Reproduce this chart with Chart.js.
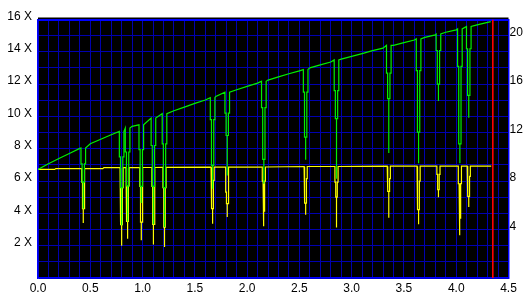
<!DOCTYPE html>
<html>
<head>
<meta charset="utf-8">
<script src="https://cdn.jsdelivr.net/npm/chart.js@4.4.0/dist/chart.umd.min.js"></script>
<style>
  body { margin: 0; background: #fff; }
  #wrap { width: 527px; height: 297px; }
</style>
</head>
<body>
<div id="wrap"><canvas id="speedChart"></canvas></div>
<script>
// speed curve (green)
const posX = [0, 0.1, 0.2, 0.3, 0.4, 0.5, 0.6, 0.7, 0.8, 0.9, 1.0, 1.1, 1.2, 1.3, 1.4,
  1.5, 1.6, 1.7, 1.8, 1.9, 2.0, 2.1, 2.2, 2.3, 2.4, 2.5, 2.6, 2.7, 2.8, 2.9, 3.0,
  3.1, 3.2, 3.3, 3.4, 3.5, 3.6, 3.7, 3.8, 3.9, 4.0, 4.1, 4.2, 4.3, 4.33];
const speed = [6.72, 7.07, 7.40, 7.71, 8.02, 8.31, 8.59, 8.87, 9.13, 9.39, 9.64, 9.88,
  10.12, 10.35, 10.58, 10.81, 11.02, 11.24, 11.45, 11.65, 11.86, 12.06, 12.25, 12.45,
  12.64, 12.82, 13.01, 13.19, 13.37, 13.55, 13.72, 13.89, 14.07, 14.23, 14.40, 14.57,
  14.73, 14.89, 15.05, 15.21, 15.36, 15.52, 15.67, 15.82, 15.87];

// second curve (yellow)
const yellowX = [0, 0.16, 0.17, 0.62, 0.63, 4.335];
const yellowY = [6.72, 6.72, 6.77, 6.77, 6.83, 6.93];

// dips: where they sit and how deep each step goes
const dipPos = [0.433, 0.80, 0.857, 0.988, 1.104, 1.21, 1.67, 1.81, 2.16, 2.56,
  2.855, 3.355, 3.64, 3.83, 4.035, 4.12];
const dipTop = [8.04, 9.07, 9.28, 9.48, 9.9, 10.17, 11.16, 11.5, 12.18, 12.9,
  13.5, 14.4, 14.8, 15.1, 15.42, 15.57];
const dipGreen = [
  [7.07, 5.94, 4.29], [7.5, 5.6, 3.26], [7.8, 5.7, 3.5], [7.94, 5.67, 4.64],
  [8.2, 5.67, 3.32], [8.3, 5.6, 3.15], [9.8, 6.97, 5.53], [10.2, 8.82, 6.35],
  [10.54, 7.34, 5.84], [11.5, 8.72, 7.32], [11.6, 9.86, 6.15], [12.68, 11.1, 7.73],
  [12.84, 9.03, 7.1], [14.08, 12.0, 10.95], [13.1, 8.3, 7.1], [14.19, 11.3, 9.92]
];
const dipYellowTop = [6.77, 6.83, 6.83, 6.84, 6.84, 6.85, 6.86, 6.86, 6.87, 6.9,
  6.9, 6.92, 6.92, 6.93, 6.93, 6.93];
const dipYellow = [
  [5.94, 4.29, 3.4], [5.6, 3.3, 2.0], [5.7, 3.5, 2.43], [5.67, 3.46, 2.33],
  [5.67, 3.32, 2.08], [5.6, 3.15, 1.92], [6.04, 4.29, 3.36], [5.32, 4.6, 3.77],
  [6.0, 4.14, 3.21], [6.15, 4.64, 3.92], [5.94, 5.0, 3.12], [6.15, 5.36, 3.73],
  [6.0, 4.23, 3.32], [6.41, 5.47, 5.0], [5.84, 3.71, 2.64], [6.29, 5.05, 4.39]
];

const markerPos = 4.35;

const leftTicks = [2, 4, 6, 8, 10, 12, 14, 16];
const rightTicks = [4, 8, 12, 16, 20];
const bottomTicks = [0, 0.5, 1.0, 1.5, 2.0, 2.5, 3.0, 3.5, 4.0, 4.5];

// baseline points plus a stepped notch at every dip
function buildSeries(baseX, baseY, tops, levels, half) {
  const pts = [];
  baseX.forEach((x, i) => {
    const inside = dipPos.some((c) => Math.abs(x - c) <= half + 0.004);
    if (!inside) pts.push({ x: x, y: baseY[i] });
  });
  dipPos.forEach((c, i) => {
    const [a, b, m] = levels[i];
    const t = tops[i];
    pts.push(
      { x: c - half, y: t }, { x: c - half, y: a },
      { x: c - half / 2, y: a }, { x: c - half / 2, y: b },
      { x: c, y: b }, { x: c, y: m }, { x: c, y: b },
      { x: c + half / 2, y: b }, { x: c + half / 2, y: a },
      { x: c + half, y: a }, { x: c + half, y: t }
    );
  });
  return pts.sort((p, q) => p.x - q.x);
}

const plotBackground = {
  id: "plotBackground",
  beforeDraw(chart) {
    const { ctx, chartArea: a } = chart;
    ctx.save();
    ctx.fillStyle = "#000";
    ctx.fillRect(a.left, a.top - 2, a.right - a.left, a.bottom - a.top + 2);
    ctx.restore();
  },
};

const gridBlue = "#0000b0";
const edgeBlue = "#0000ff";
const font = { family: "'Liberation Sans', Arial, sans-serif", size: 12 };

new Chart(document.getElementById("speedChart").getContext("2d"), {
  type: "line",
  data: {
    datasets: [
      {
        data: [{ x: markerPos, y: 0 }, { x: markerPos, y: 16 }],
        borderColor: "#ff0000",
        borderWidth: 1.6,
        order: 0,
      },
      {
        data: buildSeries(posX, speed, dipTop, dipGreen, 0.022),
        borderColor: "#00f000",
        borderWidth: 1.2,
        order: 1,
      },
      {
        data: buildSeries(yellowX, yellowY, dipYellowTop, dipYellow, 0.015),
        borderColor: "#ffff00",
        borderWidth: 1.2,
        order: 2,
      },
    ],
  },
  options: {
    responsive: true,
    maintainAspectRatio: false,
    animation: false,
    elements: { point: { radius: 0 }, line: { tension: 0 } },
    layout: { padding: { top: 19.5 } },
    plugins: { legend: { display: false }, tooltip: { enabled: false } },
    scales: {
      x: {
        type: "linear",
        min: 0,
        max: 4.5,
        afterFit: (s) => { s.height = 19; },
        grid: { color: gridBlue, drawTicks: false },
        border: { color: edgeBlue, width: 1.5 },
        ticks: {
          stepSize: 0.1,
          maxTicksLimit: 100,
          autoSkip: false,
          maxRotation: 0,
          padding: 3,
          color: "#000",
          font: font,
          callback: (v) => {
            const hit = bottomTicks.find((t) => Math.abs(t - v) < 1e-6);
            return hit === undefined ? "" : hit.toFixed(1);
          },
        },
      },
      y: {
        position: "left",
        min: 0,
        max: 16,
        afterFit: (s) => { s.width = 38; },
        grid: {
          drawTicks: false,
          color: (c) => (c.tick && c.tick.value === 16 ? edgeBlue : gridBlue),
          lineWidth: (c) => (c.tick && c.tick.value === 16 ? 2 : 1),
        },
        border: { color: edgeBlue, width: 1.5 },
        ticks: {
          stepSize: 1,
          autoSkip: false,
          padding: 6,
          labelOffset: -3,
          color: "#000",
          font: font,
          callback: (v) => (leftTicks.includes(v) ? v + " X" : ""),
        },
      },
      y2: {
        position: "right",
        min: 0,
        max: 16 * 4 / 3,
        afterFit: (s) => { s.width = 18.5; },
        grid: { display: false, drawTicks: false },
        border: { color: edgeBlue, width: 1.5 },
        ticks: {
          stepSize: 4,
          autoSkip: false,
          padding: 1,
          labelOffset: -3,
          color: "#000",
          font: font,
          callback: (v) => (rightTicks.includes(v) ? String(v) : ""),
        },
      },
    },
  },
  plugins: [plotBackground],
});
</script>
</body>
</html>
